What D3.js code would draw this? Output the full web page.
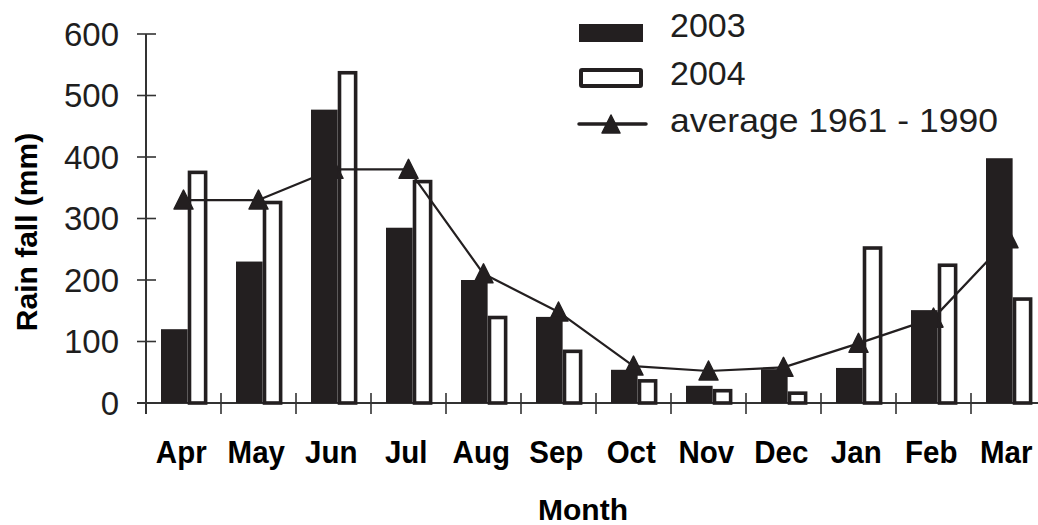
<!DOCTYPE html>
<html>
<head>
<meta charset="utf-8">
<script src="https://cdn.jsdelivr.net/npm/d3@7/dist/d3.min.js"></script>
<style>
  html, body { margin: 0; padding: 0; background: #fff; }
  svg { display: block; font-family: "Liberation Sans", Arial, Helvetica, sans-serif; }
</style>
</head>
<body>
<svg id="chart" width="1038" height="525"></svg>
<script>
// Monthly rainfall (mm), April through March
const months = ["Apr", "May", "Jun", "Jul", "Aug", "Sep", "Oct", "Nov", "Dec", "Jan", "Feb", "Mar"];
const rain2003 = [120, 230, 477, 285, 200, 140, 54, 28, 55, 57, 151, 398];
const rain2004 = [375, 326, 537, 360, 139, 84, 36, 20, 16, 252, 224, 169];
const average6190 = [330, 330, 380, 380, 210, 148, 60, 52, 58, 97, 138, 267];
const yTicks = [0, 100, 200, 300, 400, 500, 600];
const legendLabels = ["2003", "2004", "average 1961 - 1990"];

const svg = d3.select("#chart");
const ink = "#231f20";
const axisInk = "#333";
const textInk = "#1e1e1e";

const x = d3.scaleBand().domain(months).range([146, 1046]).paddingInner(0).paddingOuter(0);
const y = d3.scaleLinear().domain([0, 600]).range([403, 34]);
const bw = x.bandwidth();

// Axes: ticks straddle the axis lines
svg.append("line")
  .attr("x1", 146).attr("x2", 146).attr("y1", y(600)).attr("y2", y(0) + 11)
  .attr("stroke", axisInk).attr("stroke-width", 2);
svg.append("line")
  .attr("x1", 137).attr("x2", 1038).attr("y1", y(0)).attr("y2", y(0))
  .attr("stroke", axisInk).attr("stroke-width", 2);

const yg = svg.append("g");
yg.selectAll("line").data(yTicks).join("line")
  .attr("x1", 137).attr("x2", 156)
  .attr("y1", d => y(d)).attr("y2", d => y(d))
  .attr("stroke", axisInk).attr("stroke-width", 1.6);
yg.selectAll("text").data(yTicks).join("text")
  .attr("x", 119).attr("y", d => y(d)).attr("dy", "0.36em")
  .attr("text-anchor", "end").attr("font-size", 33).attr("fill", textInk)
  .text(d => d);

const xg = svg.append("g");
xg.selectAll("line").data(months.slice(1)).join("line")
  .attr("x1", d => x(d)).attr("x2", d => x(d))
  .attr("y1", y(0) - 10).attr("y2", y(0) + 11)
  .attr("stroke", axisInk).attr("stroke-width", 1.6);
xg.selectAll("text").data(months).join("text")
  .attr("transform", d => `translate(${x(d) + bw * 0.47},463) scale(1,1.08)`)
  .attr("text-anchor", "middle").attr("font-size", 29.5).attr("font-weight", "bold")
  .attr("fill", "#000")
  .text(d => d);

// Axis titles
svg.append("text")
  .attr("x", 583).attr("y", 520).attr("text-anchor", "middle")
  .attr("font-size", 30).attr("font-weight", "bold").attr("fill", "#000")
  .text("Month");
svg.append("text")
  .attr("transform", "translate(37,232) rotate(-90)")
  .attr("text-anchor", "middle")
  .attr("font-size", 30).attr("font-weight", "bold").attr("fill", "#000")
  .text("Rain fall (mm)");

// 2004 bars: open outlined boxes
svg.append("g").selectAll("rect").data(months).join("rect")
  .attr("x", d => x(d) + bw * 0.58)
  .attr("width", bw * 0.215)
  .attr("y", (d, i) => y(rain2004[i]))
  .attr("height", (d, i) => y(0) - y(rain2004[i]))
  .attr("fill", "#fff").attr("stroke", ink).attr("stroke-width", 3.6);

// 1961-1990 average: line with triangle markers
const tri = "M0,-10 L9.5,9 L-9.5,9 Z";
const line = d3.line()
  .x((d, i) => x(months[i]) + bw / 2)
  .y(d => y(d))
  .curve(d3.curveLinear);
svg.append("path").datum(average6190)
  .attr("d", line).attr("fill", "none")
  .attr("stroke", ink).attr("stroke-width", 2.2).attr("stroke-linejoin", "round");
svg.append("g").selectAll("path").data(average6190).join("path")
  .attr("transform", (d, i) => `translate(${x(months[i]) + bw / 2},${y(d)})`)
  .attr("d", tri).attr("fill", ink)
  .attr("stroke", ink).attr("stroke-width", 1.5).attr("stroke-linejoin", "round");

// 2003 bars: solid
svg.append("g").selectAll("rect").data(months).join("rect")
  .attr("x", d => x(d) + bw * 0.2)
  .attr("width", bw * 0.355)
  .attr("y", (d, i) => y(rain2003[i]))
  .attr("height", (d, i) => y(0) - y(rain2003[i]))
  .attr("fill", ink);

// Legend
const lg = svg.append("g");
lg.append("rect").attr("x", 579).attr("y", 24).attr("width", 64).attr("height", 18).attr("fill", ink);
lg.append("rect").attr("x", 581).attr("y", 70).attr("width", 60).attr("height", 16)
  .attr("fill", "#fff").attr("stroke", ink).attr("stroke-width", 4).attr("rx", 1);
lg.append("line").attr("x1", 579).attr("x2", 646).attr("y1", 124).attr("y2", 124)
  .attr("stroke", ink).attr("stroke-width", 3.5).attr("stroke-linecap", "round");
lg.append("path").attr("transform", "translate(611,124)")
  .attr("d", "M0,-9 L9,9 L-9,9 Z").attr("fill", ink)
  .attr("stroke", ink).attr("stroke-width", 1.5).attr("stroke-linejoin", "round");
lg.selectAll("text").data(legendLabels).join("text")
  .attr("x", 670).attr("y", (d, i) => 37 + i * 47.5)
  .attr("font-size", 34).attr("fill", textInk)
  .attr("textLength", (d, i) => i === 2 ? 328 : null)
  .attr("lengthAdjust", "spacingAndGlyphs")
  .text(d => d);
</script>
</body>
</html>
